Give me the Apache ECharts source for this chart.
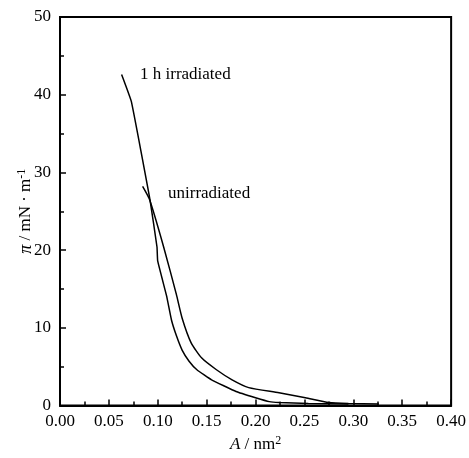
<!DOCTYPE html>
<html>
<head>
<meta charset="utf-8">
<script src="https://cdn.jsdelivr.net/npm/echarts@6/dist/echarts.min.js"></script>
<style>html,body{margin:0;padding:0;background:#fff}#c{width:469px;height:458px}</style>
</head>
<body>
<div id="c"></div>
<script>
// 1 h irradiated isotherm
const irrA  = [0.063, 0.073, 0.092, 0.0992, 0.0999, 0.109, 0.114, 0.119, 0.125, 0.132, 0.140, 0.155, 0.180, 0.200, 0.214, 0.224, 0.254, 0.295];
const irrPi = [42.6, 39.1, 26.5, 20.4, 18.6, 14.1, 11.0, 9.0, 7.1, 5.7, 4.6, 3.3, 1.8, 1.0, 0.5, 0.38, 0.25, 0.2];
// unirradiated isotherm
const unA  = [0.0845, 0.0916, 0.106, 0.119, 0.125, 0.134, 0.145, 0.160, 0.176, 0.193, 0.224, 0.251, 0.275, 0.295, 0.326];
const unPi = [28.2, 26.5, 20.4, 14.3, 11.2, 8.1, 6.1, 4.6, 3.3, 2.3, 1.65, 1.0, 0.38, 0.25, 0.2];
const xTicks = [0, 0.40, 0.05];
const yTicks = [0, 50, 10];
const seriesNames = ['1 h irradiated', 'unirradiated'];

const FONT = "'Liberation Serif', 'Times New Roman', serif";
const chart = echarts.init(document.getElementById('c'));
const pairs = (a, b) => a.map((v, i) => [v, b[i]]);
const lineStyle = {color: '#000', width: 1.5};
const axisCommon = {
  axisLine: {show: true, lineStyle: {color: '#000', width: 2}},
  axisTick: {show: true, inside: true, length: 6, lineStyle: {color: '#000', width: 1.5}},
  minorTick: {show: true, splitNumber: 2, length: 4, lineStyle: {color: '#000', width: 1.5}},
  splitLine: {show: false},
  axisLabel: {color: '#000', fontFamily: FONT, fontSize: 17},
  nameMoveOverlap: false
};
chart.setOption({
  backgroundColor: '#fff',
  animation: false,
  grid: {left: 60, right: 16, top: 17, bottom: 47, show: true, borderColor: '#000', borderWidth: 2},
  xAxis: Object.assign({}, axisCommon, {
    type: 'value', min: xTicks[0], max: xTicks[1], interval: xTicks[2],
    axisLabel: Object.assign({}, axisCommon.axisLabel, {margin: 8, formatter: v => v.toFixed(2)}),
    name: '{i|A} / nm{s|2}', nameLocation: 'middle', nameGap: 29,
    nameTextStyle: {color: '#000', fontFamily: FONT, fontSize: 17,
      rich: {i: {fontStyle: 'italic', fontFamily: FONT, fontSize: 17, color: '#000'},
             s: {fontSize: 12, fontFamily: FONT, color: '#000', verticalAlign: 'top', padding: [0,0,8,0]}}}
  }),
  yAxis: Object.assign({}, axisCommon, {
    type: 'value', min: yTicks[0], max: yTicks[1], interval: yTicks[2],
    axisLabel: Object.assign({}, axisCommon.axisLabel, {margin: 9}),
    name: '{i|π} / mN · m{s|-1}', nameLocation: 'middle', nameGap: 24,
    nameTextStyle: {color: '#000', fontFamily: FONT, fontSize: 17,
      rich: {i: {fontStyle: 'italic', fontFamily: FONT, fontSize: 18, color: '#000'},
             s: {fontSize: 12, fontFamily: FONT, color: '#000', verticalAlign: 'top', padding: [0,0,8,0]}}}
  }),
  series: [
    {name: seriesNames[0], type: 'line', data: pairs(irrA, irrPi), showSymbol: false, symbol: 'none', smooth: 0.1, lineStyle: lineStyle, z: 3},
    {name: seriesNames[1], type: 'line', data: pairs(unA, unPi), showSymbol: false, symbol: 'none', smooth: 0.2, lineStyle: lineStyle, z: 3}
  ],
  graphic: [
    {type: 'text', left: 140, top: 66, style: {text: seriesNames[0], font: '17px ' + FONT, fill: '#000'}},
    {type: 'text', left: 168, top: 185, style: {text: seriesNames[1], font: '17px ' + FONT, fill: '#000'}}
  ]
});
</script>
</body>
</html>
